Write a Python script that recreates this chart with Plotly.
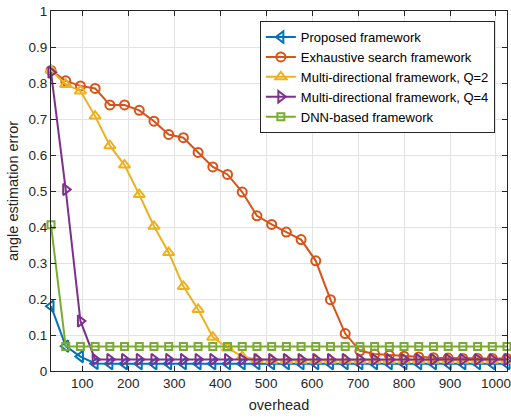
import plotly.graph_objects as go

overhead = [32 * k for k in range(1, 33)]

proposed = [0.180, 0.069, 0.040, 0.021] + [0.020] * 28
exhaustive = [0.835, 0.806, 0.792, 0.785, 0.739, 0.739, 0.724, 0.694, 0.657, 0.648,
              0.607, 0.567, 0.546, 0.497, 0.431, 0.407, 0.386, 0.365, 0.306, 0.198,
              0.104, 0.056, 0.047, 0.044, 0.041, 0.039, 0.037, 0.036, 0.035, 0.035,
              0.035, 0.035]
multi_q2 = [0.836, 0.796, 0.778, 0.708, 0.626, 0.572, 0.490, 0.402, 0.329, 0.235,
            0.171, 0.094, 0.064, 0.040, 0.032] + [0.030] * 17
multi_q4 = [0.830, 0.504, 0.139, 0.032] + [0.032] * 28
dnn = [0.406] + [0.068] * 31

names = ["Proposed framework", "Exhaustive search framework",
         "Multi-directional framework, Q=2", "Multi-directional framework, Q=4",
         "DNN-based framework"]
colors = ["#0072BD", "#D95319", "#EDB120", "#7E2F8E", "#77AC30"]
symbols = ["triangle-left-open", "circle-open", "triangle-up-open",
           "triangle-right-open", "square-open"]
sizes = [10, 9, 10, 10, 7]
series = [proposed, exhaustive, multi_q2, multi_q4, dnn]

fig = go.Figure()
for name, col, sym, sz, ys in zip(names, colors, symbols, sizes, series):
    fig.add_trace(go.Scatter(
        x=overhead, y=ys, name=name, mode="lines+markers",
        line=dict(color=col, width=2),
        marker=dict(symbol=sym, size=sz, color=col, line=dict(width=2, color=col)),
        cliponaxis=False,
    ))

axis_common = dict(
    showline=True, linecolor="#262626", linewidth=1, mirror="ticks",
    ticks="inside", ticklen=5, tickcolor="#262626", automargin=False,
    showgrid=True, gridcolor="#e3e3e3", gridwidth=1, zeroline=False,
    tickfont=dict(family="Liberation Sans, Arial, sans-serif", size=13.5, color="#262626"),
)

fig.update_layout(
    width=511, height=418,
    margin=dict(l=51, r=4, t=11, b=47),
    paper_bgcolor="white", plot_bgcolor="white",
    font=dict(family="Liberation Sans, Arial, sans-serif", color="#262626"),
    xaxis=dict(range=[32, 1024], tickvals=list(range(100, 1001, 100)),
               title=dict(text="overhead", font=dict(size=14.5), standoff=9), **axis_common),
    yaxis=dict(range=[0, 1], tickvals=[i / 10 for i in range(11)],
               ticktext=["0"] + [f"0.{i}" for i in range(1, 10)] + ["1"],
               title=dict(text="angle estimation error", font=dict(size=14.5), standoff=6),
               **axis_common),
    legend=dict(x=0.458, y=0.972, xanchor="left", yanchor="top",
                bgcolor="white", bordercolor="#262626", borderwidth=1,
                font=dict(size=13, color="#000000"), itemwidth=30,
                tracegroupgap=0),
    showlegend=True,
)

fig.write_html("out.html")
